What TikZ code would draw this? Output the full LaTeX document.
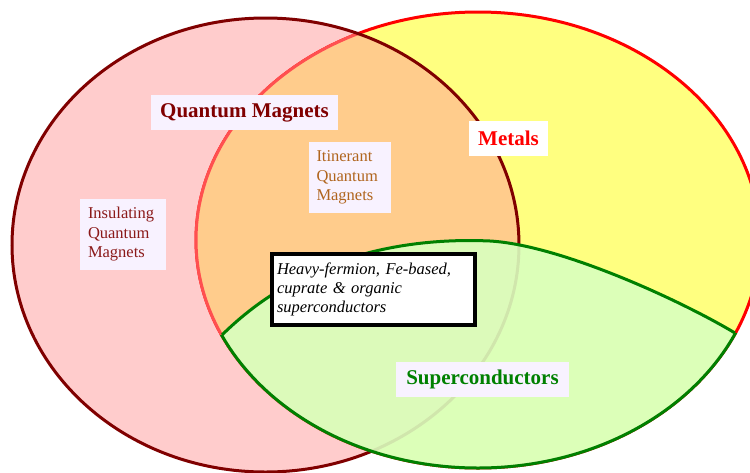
\documentclass[tikz,border=0pt]{standalone}
\usepackage{fontspec}
\setmainfont{Liberation Serif}
\usepackage{xcolor}
\usepackage{tikz}

\definecolor{qmred}{HTML}{800000}
\definecolor{qmpink}{HTML}{FFCCCC}
\definecolor{metyellow}{HTML}{FFFF80}
\definecolor{overlap}{HTML}{FFCC8C}
\definecolor{scfill}{HTML}{D9FFBF}
\definecolor{scline}{HTML}{008000}
\definecolor{labelbg}{HTML}{F8F2FF}
\definecolor{itincol}{HTML}{B0651E}
\definecolor{insucol}{HTML}{8B1A1A}
\definecolor{lightred}{HTML}{FF5050}

\begin{document}
\begin{tikzpicture}[x=1pt, y=-1pt,
    bigtag/.style={fill=labelbg, font=\fontsize{21}{25}\selectfont\bfseries, inner xsep=9pt, inner ysep=0pt, minimum height=35pt},
    smalltag/.style={fill=labelbg, font=\fontsize{16.5}{19.5}\selectfont, align=left, inner xsep=8pt, minimum height=71pt}]
    \useasboundingbox (0,0) rectangle (750,472);
    \clip (0,0) rectangle (750,472);
    \coordinate (qm) at (265.5,245); \coordinate (met) at (478,240);
    \coordinate (scL) at (222,335); \coordinate (scT) at (490,241); \coordinate (scR) at (735,333);
    \fill[qmpink] (qm) ellipse (253.5 and 227);
    \fill[metyellow] (met) ellipse (282 and 228);
    \draw[red, line width=3pt] (met) ellipse (282 and 228);
    \begin{scope}
        \clip (qm) ellipse (253.5 and 227);
        \fill[overlap] (met) ellipse (282 and 228);
        \draw[lightred, line width=3pt] (met) ellipse (282 and 228);
    \end{scope}
    \draw[qmred, line width=3pt] (qm) ellipse (253.5 and 227);
    \begin{scope}
        \clip (scL) .. controls (300,258) and (400,237) .. (scT) .. controls (560,245) and (680,300) .. (scR)
            -- (760,333) -- (760,480) -- (190,480) -- (190,335) -- cycle;
        \fill[scfill, opacity=0.9] (met) ellipse (282 and 228);
        \draw[scline, line width=3pt] (met) ellipse (282 and 228);
    \end{scope}
    \draw[scline, line width=3pt] (scL) .. controls (300,258) and (400,237) .. (scT) .. controls (560,245) and (680,300) .. (scR);
    \node[bigtag, text=qmred] (qmtag) at (244.5,112.5) {Quantum Magnets};
    \node[bigtag, text=red, fill=white] (mettag) at (508.5,138.5) {Metals};
    \node[bigtag, text=scline, inner xsep=10pt] (sctag) at (482.5,379.5) {Superconductors};
    \node[smalltag, text=itincol, text width=66pt] (itin) at (349.5,177.5) {Itinerant\\Quantum\\Magnets};
    \node[smalltag, text=insucol, text width=70pt] (insu) at (123,234.5) {Insulating\\Quantum\\Magnets};
    \node[draw=black, line width=4pt, fill=white, align=left, text width=193pt, inner xsep=5pt, minimum height=71pt,
        font=\fontsize{16.5}{19}\selectfont\itshape] (heavy) at (373.5,289.5)
        {Heavy-fermion, Fe-based,\\cuprate \& organic\\superconductors};
\end{tikzpicture}
\end{document}
